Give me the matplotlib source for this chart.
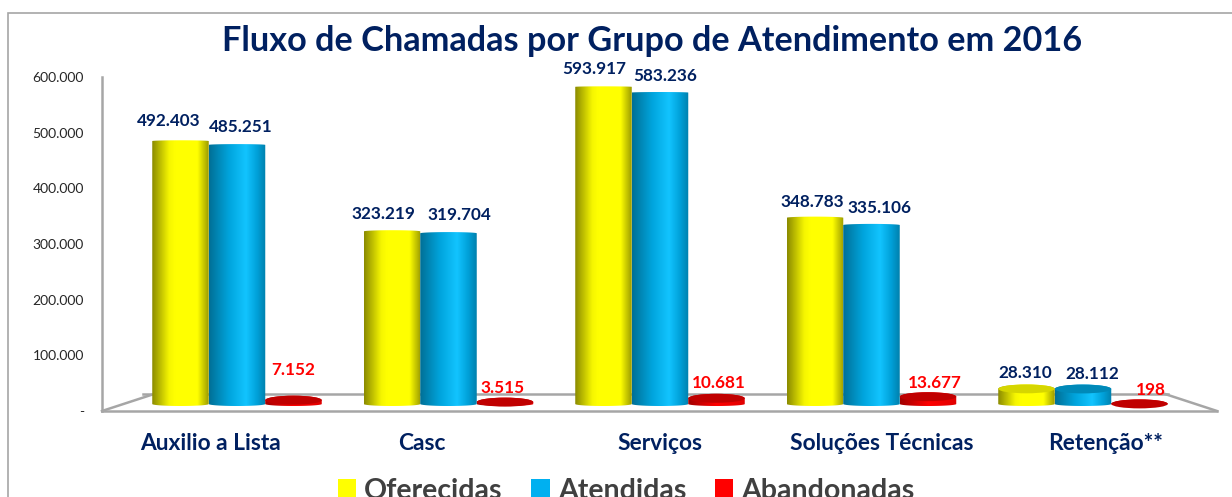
import matplotlib
matplotlib.use('Agg')
import matplotlib.pyplot as plt
import numpy as np
from matplotlib.patches import Ellipse, Polygon, Rectangle
from matplotlib.colors import LinearSegmentedColormap

grupos = ['Auxilio a Lista', 'Casc', 'Serviços', 'Soluções Técnicas', 'Retenção**']
oferecidas = [492403, 323219, 593917, 348783, 28310]
atendidas = [485251, 319704, 583236, 335106, 28112]
abandonadas = [7152, 3515, 10681, 13677, 198]
y_ticks = [0, 100000, 200000, 300000, 400000, 500000, 600000]

W, H = 1232, 497
FONT = 'Lato'
AZUL = '#002060'

# name, values, cylinder gradient, cap colour, legend colour, label colour
estilos = [
    ('Oferecidas', oferecidas, [(0, '#8a8a00'), (.3, '#f5f500'), (.4, '#ffff00'), (.8, '#ffff00'), (1, '#9a9a00')],
     '#d6d600', '#ffff00', AZUL),
    ('Atendidas', atendidas, [(0, '#006f96'), (.35, '#00a4dc'), (.65, '#12c4ff'), (.85, '#00a0d8'), (1, '#0080ac')],
     '#0089b8', '#00b0f0', AZUL),
    ('Abandonadas', abandonadas, [(0, '#a00000'), (.5, '#ff0000'), (1, '#e00000')],
     '#c00000', '#ff0000', '#ff0000'),
]
# label offsets from the top of each bar, px (dx, dy)
offsets = [
    [(-12, 20), (-9, 17), (-9, 18), (-3, 16), (-1, 16)],
    [(4, 18), (11, 18), (5, 17), (8, 17), (9, 15)],
    [(0, 30), (-2, 14), (2, 15), (7, 14), (11, 14)],
]
label_x = [211, 422, 660, 882, 1106]

plt.rcParams['font.family'] = [FONT, 'DejaVu Sans']
fig = plt.figure(figsize=(W / 100, H / 100), dpi=100)
fig.patch.set_facecolor('white')

# outer chart border, runs off the bottom and right of the crop
fig.add_artist(Rectangle((8 / W, -0.1), 1240 / W, 1 - 13 / H + 0.1, transform=fig.transFigure,
                         fill=False, ec='#a6a6a6', lw=1.2))

left, right, top, bottom = 102, 1217, 77, 411
pos = [left / W, 1 - bottom / H, (right - left) / W, (bottom - top) / H]

# axis with the printed ticks
ax_t = fig.add_axes(pos)
ax_t.set_ylim(0, 600000)
ax_t.set_xticks([])
ax_t.set_yticks(y_ticks)
ax_t.set_yticklabels(['-'] + [f'{v:,}'.replace(',', '.') for v in y_ticks[1:]], fontsize=10, color='#262626')
ax_t.tick_params(axis='y', length=0, pad=13)
for s in ['top', 'right']:
    ax_t.spines[s].set_visible(False)
for s in ['left', 'bottom']:
    ax_t.spines[s].set_color('#a6a6a6')
    ax_t.spines[s].set_linewidth(1.8)
ax_t.patch.set_visible(False)

# floor of the 3D box
fl = lambda px, py: ((px - left) / (right - left), (bottom - py) / (bottom - top))
for a, b in [((102, 411), (151, 395)), ((143, 394), (1168, 394)), ((1165, 394), (1217, 411))]:
    ax_t.plot(*zip(fl(*a), fl(*b)), transform=ax_t.transAxes, color='#a6a6a6', lw=1.8, clip_on=False)

# bars use their own scale: zero sits above the floor edge
ax = fig.add_axes(pos)
px_x, px_y = 211.5, 0.000534
ax.axis('off')
ax.patch.set_visible(False)

x = np.arange(len(grupos))
width = 56.5 / px_x
grad = np.linspace(0, 1, 256)[None, :]
t = np.linspace(0, np.pi, 40)
for k, (nome, vals, stops, c_cap, cor, c_txt) in enumerate(estilos):
    bars = ax.bar(x + (k - 1) * width, vals, width, color='none', zorder=2 + k)
    cmap = LinearSegmentedColormap.from_list(nome, stops)
    for i, b in enumerate(bars):
        x0, w, v = b.get_x(), b.get_width(), b.get_height()
        # short cylinders show their lid, tall ones only a shallow arc
        cap_h = ((9 if v < 50000 else 4) - 3 * v / 600000) / px_y
        base_h = 2 / px_y
        xs = x0 + w / 2 + w / 2 * np.cos(t)
        verts = np.r_[np.c_[xs, v + cap_h / 2 * np.sin(t)], np.c_[xs[::-1], -base_h * np.sin(t)]]
        im = ax.imshow(grad, cmap=cmap, extent=(x0, x0 + w, -base_h, v + cap_h / 2), aspect='auto',
                       zorder=2 + k, interpolation='bilinear')
        im.set_clip_path(Polygon(verts, transform=ax.transData))
        if v < 50000:
            ax.add_patch(Ellipse((x0 + w / 2, v), w, cap_h, fc=c_cap, ec='none', zorder=2.1 + k))
        dx, dy = offsets[k][i]
        ax.annotate(f'{v:,}'.replace(',', '.'), (x0 + w / 2, v), xytext=(dx * .72, dy * .72),
                    textcoords='offset points', ha='center', va='center', color=c_txt,
                    fontsize=12.3, fontweight='bold', zorder=10)
ax.set_xlim((left - 237) / px_x, (right - 237) / px_x)
ax.set_ylim(-(bottom - 404) / px_y, (404 - top) / px_y)

# category labels do not sit on the group centres in the source
for nome, px in zip(grupos, label_x):
    fig.text(px / W, 1 - 443 / H, nome, ha='center', va='center', color=AZUL, fontsize=16.4, fontweight='bold')

fig.text(652 / W, 1 - 41 / H, 'Fluxo de Chamadas por Grupo de Atendimento em 2016', ha='center', va='center',
         color=AZUL, fontsize=24.7, fontweight='bold')

handles = [Rectangle((0, 0), 1, 1, fc=e[4]) for e in estilos]
fig.legend(handles, [e[0] for e in estilos], loc='center', bbox_to_anchor=(626 / W, 1 - 491 / H), ncol=3,
           frameon=False, handlelength=.65, handleheight=.65, handletextpad=.28, columnspacing=1.0,
           labelcolor='#404040', prop={'family': FONT, 'weight': 'bold', 'size': 20.5})

fig.savefig('out.png', dpi=100)
